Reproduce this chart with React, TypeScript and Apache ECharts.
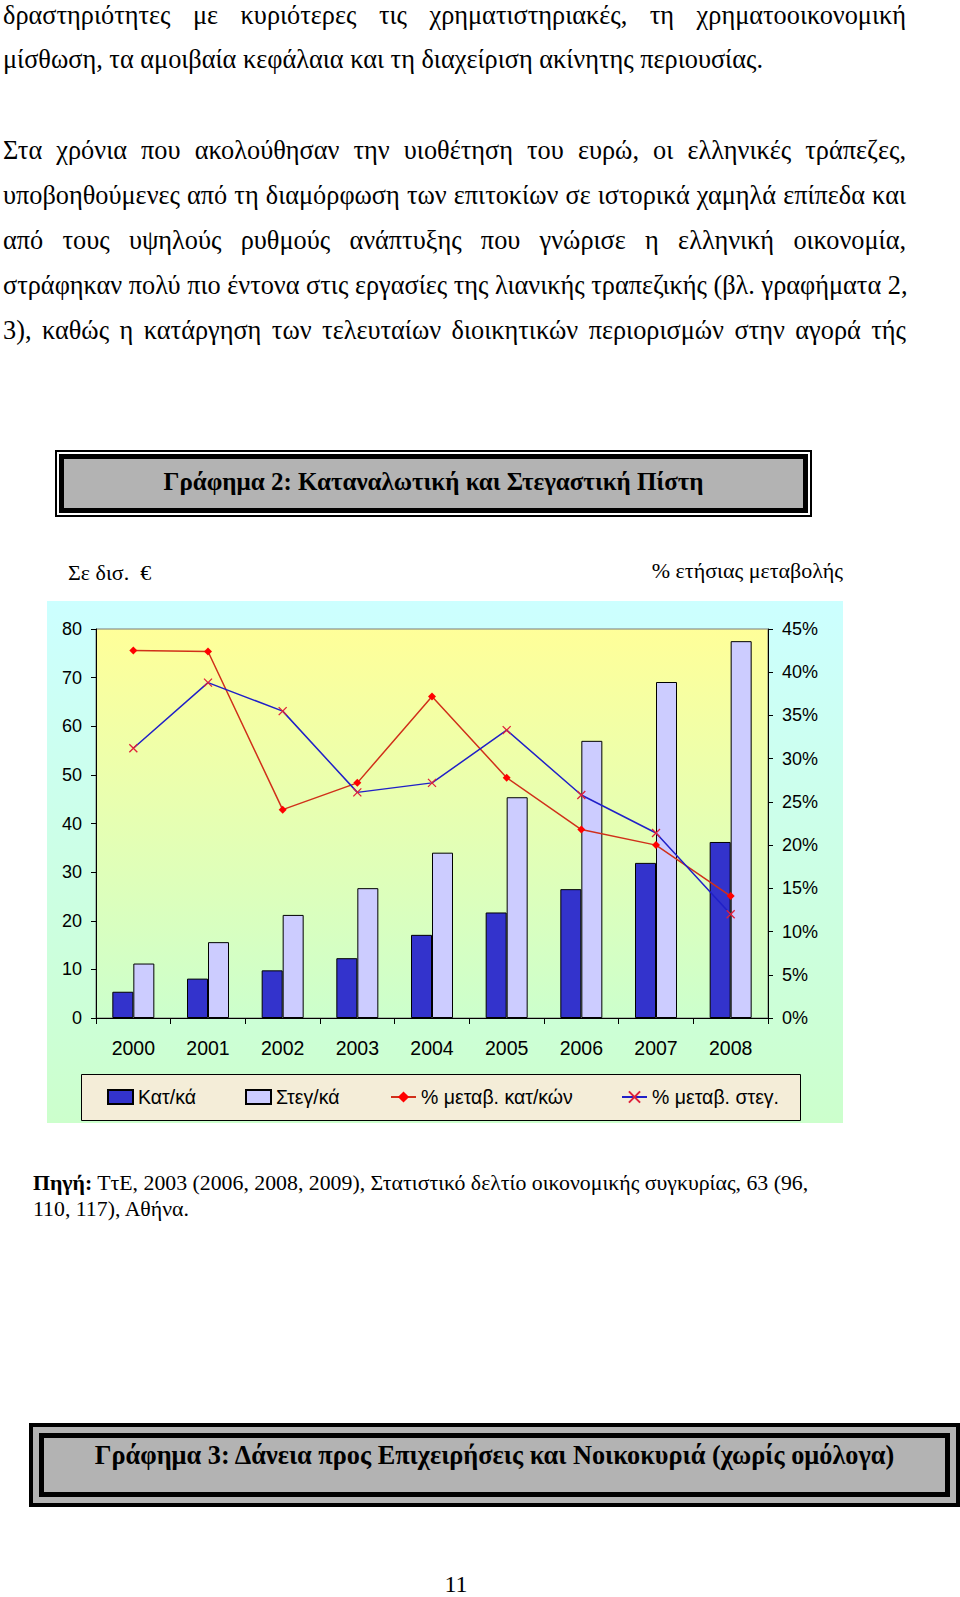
import React, { useEffect, useRef } from "react";
import * as echarts from "echarts";

const years = ["2000", "2001", "2002", "2003", "2004", "2005", "2006", "2007", "2008"];
const consumerCredit = [5.4, 8.1, 9.8, 12.3, 17.1, 21.7, 26.5, 31.9, 36.2];
const housingCredit = [11.2, 15.6, 21.2, 26.7, 34.0, 45.4, 57.0, 69.1, 77.5];
const consumerPct = [42.5, 42.4, 24.1, 27.2, 37.2, 27.8, 21.8, 20.0, 14.1];
const housingPct = [31.2, 38.8, 35.5, 26.1, 27.2, 33.3, 25.8, 21.4, 12.0];
const seriesNames = ["Κατ/κά", "Στεγ/κά", "% μεταβ. κατ/κών", "% μεταβ. στεγ."];

const paragraphLines = [
  { text: "δραστηριότητες με κυριότερες τις χρηματιστηριακές, τη χρηματοοικονομική", justify: true, baseline: 25 },
  { text: "μίσθωση, τα αμοιβαία κεφάλαια και τη διαχείριση ακίνητης περιουσίας.", justify: false, baseline: 69 },
  { text: "Στα χρόνια που ακολούθησαν την υιοθέτηση του ευρώ, οι ελληνικές τράπεζες,", justify: true, baseline: 160 },
  { text: "υποβοηθούμενες από τη διαμόρφωση των επιτοκίων σε ιστορικά χαμηλά επίπεδα και", justify: true, baseline: 205 },
  { text: "από τους υψηλούς ρυθμούς ανάπτυξης που γνώρισε η ελληνική οικονομία,", justify: true, baseline: 250 },
  { text: "στράφηκαν πολύ πιο έντονα στις εργασίες της λιανικής τραπεζικής (βλ. γραφήματα 2,", justify: true, baseline: 295 },
  { text: "3), καθώς η κατάργηση των τελευταίων διοικητικών περιορισμών στην αγορά τής", justify: true, baseline: 340 },
];

const serif = '"Liberation Serif", "Times New Roman", Times, serif';
const sans = '"Liberation Sans", Arial, Helvetica, sans-serif';

const BODY_FS = 26.3;

function buildOption() {
  const offY = 540;
  const legendTop = 547;
  const legendCommon = {
    top: legendTop,
    padding: 0,
    itemWidth: 25,
    itemHeight: 14,
    itemGap: 0,
    selectedMode: false,
    textStyle: { fontFamily: sans, fontSize: 19.5, color: "#000" },
  };
  return {
    animation: false,
    textStyle: { fontFamily: sans },
    grid: {
      left: 96,
      right: 192,
      top: 629 - offY,
      height: 389,
      show: true,
      borderColor: "#7a7a7a",
      borderWidth: 1,
      backgroundColor: {
        type: "linear",
        x: 0,
        y: 0,
        x2: 0,
        y2: 1,
        colorStops: [
          { offset: 0, color: "#FFFF99" },
          { offset: 1, color: "#CCFFCC" },
        ],
      },
    },
    graphic: [
      {
        type: "rect",
        z: -10,
        shape: { x: 47, y: 601 - offY, width: 796, height: 522 },
        style: {
          fill: {
            type: "linear",
            x: 0,
            y: 0,
            x2: 0,
            y2: 1,
            colorStops: [
              { offset: 0, color: "#CCFFFF" },
              { offset: 1, color: "#CCFFCC" },
            ],
          },
        },
      },
      {
        type: "rect",
        z: 1,
        shape: { x: 81.5, y: 1074.5 - offY, width: 719, height: 46 },
        style: { fill: "#F4EDD8", stroke: "#000", lineWidth: 1 },
      },
      {
        type: "text",
        x: 68,
        y: 572 - offY,
        style: { text: "Σε δισ.\u00a0 €", font: `22px ${serif}`, fill: "#000", verticalAlign: "middle", align: "left" },
      },
      {
        type: "text",
        x: 843,
        y: 570 - offY,
        style: { text: "% ετήσιας μεταβολής", font: `22px ${serif}`, fill: "#000", verticalAlign: "middle", align: "right" },
      },
    ],
    legend: [
      { ...legendCommon, left: 107, data: [{ name: seriesNames[0], icon: "rect" }] },
      { ...legendCommon, left: 245, data: [{ name: seriesNames[1], icon: "rect" }] },
      { ...legendCommon, left: 390, data: [seriesNames[2]] },
      { ...legendCommon, left: 621, data: [seriesNames[3]] },
    ],
    xAxis: {
      type: "category",
      data: years,
      boundaryGap: true,
      axisLine: { lineStyle: { color: "#000", width: 1 } },
      axisTick: { show: true, length: 6, alignWithLabel: false, lineStyle: { color: "#000" } },
      axisLabel: { color: "#000", fontSize: 19.5, margin: 20, fontFamily: sans },
    },
    yAxis: [
      {
        type: "value",
        min: 0,
        max: 80,
        interval: 10,
        position: "left",
        axisLine: { show: true, lineStyle: { color: "#000" } },
        axisTick: { show: true, length: 5, lineStyle: { color: "#000" } },
        axisLabel: { color: "#000", fontSize: 18, margin: 14, fontFamily: sans },
        splitLine: { show: false },
      },
      {
        type: "value",
        min: 0,
        max: 45,
        interval: 5,
        position: "right",
        axisLine: { show: true, lineStyle: { color: "#000" } },
        axisTick: { show: true, length: 5, lineStyle: { color: "#000" } },
        axisLabel: { color: "#000", fontSize: 18, margin: 14, formatter: "{value}%", fontFamily: sans },
        splitLine: { show: false },
      },
    ],
    series: [
      {
        name: seriesNames[0],
        type: "bar",
        data: consumerCredit,
        barWidth: 21,
        barGap: "0%",
        itemStyle: { color: "#3333CC", borderColor: "#000", borderWidth: 1 },
      },
      {
        name: seriesNames[1],
        type: "bar",
        data: housingCredit,
        barWidth: 21,
        barGap: "0%",
        itemStyle: { color: "#CCCCFF", borderColor: "#000", borderWidth: 1 },
      },
      {
        name: seriesNames[2],
        type: "line",
        yAxisIndex: 1,
        data: consumerPct,
        symbol: "diamond",
        symbolSize: 8,
        itemStyle: { color: "#FF0000" },
        lineStyle: { color: "#D0301A", width: 1.5 },
        z: 5,
      },
      {
        name: seriesNames[3],
        type: "line",
        yAxisIndex: 1,
        data: housingPct,
        symbol: "path://M0,0L10,10M0,10L10,0",
        symbolSize: 8,
        itemStyle: { color: "rgba(0,0,0,0)", borderColor: "#E0203A", borderWidth: 1.3 },
        lineStyle: { color: "#2020C8", width: 1.5 },
        z: 5,
      },
    ],
  };
}

export default function App() {
  const ref = useRef<HTMLDivElement>(null);
  useEffect(() => {
    if (!ref.current) return;
    const chart = echarts.init(ref.current, null, { renderer: "svg" });
    chart.setOption(buildOption() as any);
    return () => chart.dispose();
  }, []);

  const boxText = (fs: number): React.CSSProperties => ({
    position: "absolute",
    fontFamily: serif,
    fontWeight: "bold",
    fontSize: fs,
    lineHeight: `${fs}px`,
    whiteSpace: "nowrap",
    color: "#000",
  });

  return (
    <div
      style={{
        position: "absolute",
        left: 0,
        top: 0,
        width: 960,
        height: 1597,
        background: "#fff",
        overflow: "hidden",
        color: "#000",
      }}
    >
      {paragraphLines.map((l, i) => (
        <div
          key={i}
          style={{
            position: "absolute",
            left: 3,
            top: l.baseline - Math.round(BODY_FS * 0.8375),
            width: l.justify ? 903 : 940,
            fontFamily: serif,
            fontSize: BODY_FS,
            lineHeight: `${BODY_FS}px`,
            textAlign: l.justify ? "justify" : "left",
            textAlignLast: l.justify ? "justify" : "left",
            whiteSpace: "nowrap",
          }}
        >
          {l.text}
        </div>
      ))}

      {/* Title box 1 */}
      <div
        style={{
          position: "absolute",
          left: 55,
          top: 450,
          width: 757,
          height: 67,
          boxSizing: "border-box",
          border: "2px solid #000",
          background: "#fff",
          padding: 2,
        }}
      >
        <div
          style={{
            width: "100%",
            height: "100%",
            boxSizing: "border-box",
            border: "5px solid #000",
            background: "#B3B3B3",
          }}
        />
      </div>
      <div style={{ ...boxText(25), left: 55, width: 757, top: 469, textAlign: "center" }}>
        Γράφημα 2: Καταναλωτική και Στεγαστική Πίστη
      </div>

      <div ref={ref} style={{ position: "absolute", left: 0, top: 540, width: 960, height: 600 }} />

      <div
        style={{
          position: "absolute",
          left: 33,
          top: 1170,
          fontFamily: serif,
          fontSize: 21.8,
          lineHeight: "26px",
          whiteSpace: "nowrap",
        }}
      >
        <b>Πηγή:</b> ΤτΕ, 2003 (2006, 2008, 2009), Στατιστικό δελτίο οικονομικής συγκυρίας, 63 (96,
        <br />
        110, 117), Αθήνα.
      </div>

      {/* Title box 2 */}
      <div
        style={{
          position: "absolute",
          left: 29,
          top: 1423,
          width: 931,
          height: 84,
          boxSizing: "border-box",
          border: "4px solid #000",
          background: "#B3B3B3",
          padding: 6,
        }}
      >
        <div
          style={{
            width: "100%",
            height: "100%",
            boxSizing: "border-box",
            border: "5px solid #000",
            background: "#B3B3B3",
          }}
        />
      </div>
      <div style={{ ...boxText(26.3), left: 29, width: 931, top: 1443, textAlign: "center" }}>
        Γράφημα 3: Δάνεια προς Επιχειρήσεις και Νοικοκυριά (χωρίς ομόλογα)
      </div>

      <div
        style={{
          position: "absolute",
          left: 0,
          width: 912,
          top: 1572,
          textAlign: "center",
          fontFamily: serif,
          fontSize: 24,
          lineHeight: "24px",
        }}
      >
        11
      </div>
    </div>
  );
}
